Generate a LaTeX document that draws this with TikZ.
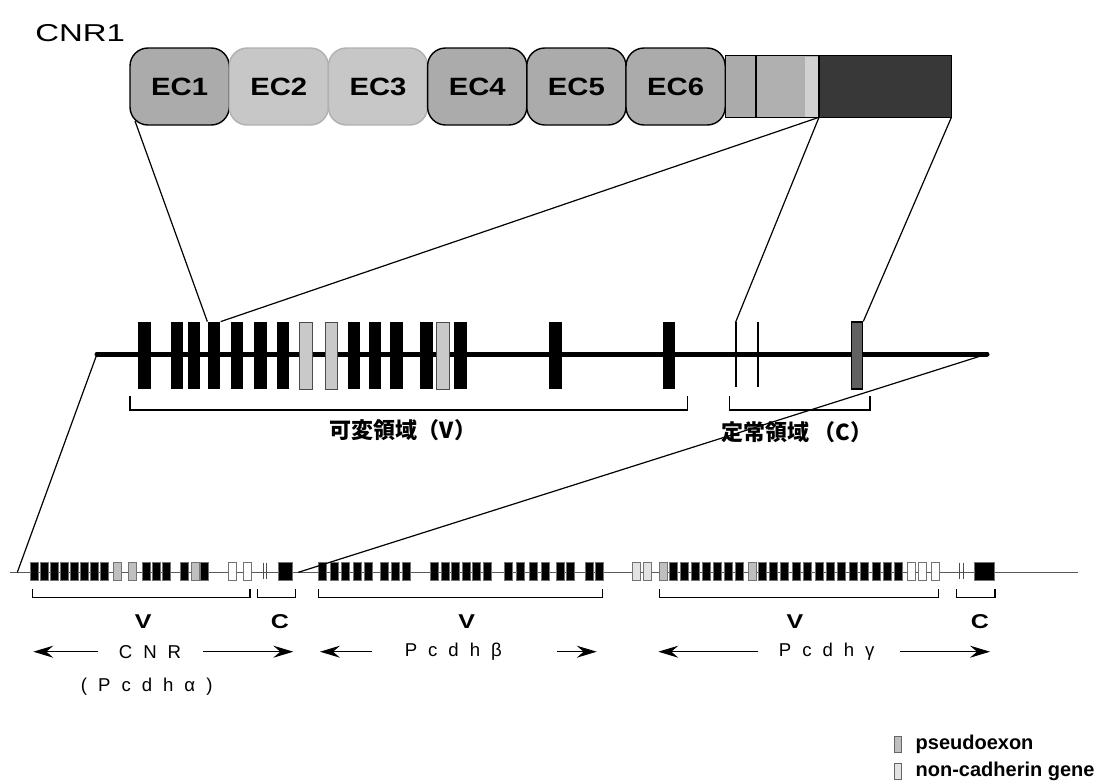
\documentclass[tikz,border=0pt]{standalone}
\usepackage{fontspec}
\usepackage{graphicx}
\setmainfont{Liberation Sans}
\newfontfamily\jpfont{Noto Sans CJK JP}
\usetikzlibrary{calc,positioning,arrows.meta}
\newcommand{\cgap}{\hspace{5.5pt}}
\newcommand{\widen}[2]{\scalebox{#1}[1]{#2}}
\tikzset{
	ecdark/.style={draw=black, fill=gray!66, line width=0.7pt, rounded corners=9pt, minimum width=49.6pt, minimum height=38.5pt, inner sep=0pt, outer sep=0pt, font=\fontsize{12.5}{14}\selectfont\bfseries},
	eclight/.style={ecdark, draw=gray!62, fill=gray!44},
	tmbox/.style={draw=black, fill=gray!66, line width=0.7pt, minimum height=30.8pt, inner sep=0pt, outer sep=0pt},
	vex/.style={fill=black, minimum width=6.25pt, minimum height=33.5pt, inner sep=0pt},
	vpseudo/.style={vex, draw=black!70, fill=gray!42, line width=0.5pt},
	bex/.style={draw=black!55, fill=black, minimum width=4pt, minimum height=9.2pt, inner sep=0pt, line width=0.4pt},
	bpseudo/.style={bex, fill=gray!50},
	bnoncad/.style={bex, fill=gray!22},
	bwhite/.style={bex, fill=white},
	link/.style={line width=0.6pt},
	brk/.style={line width=0.6pt},
	arr/.style={line width=0.5pt, -{Stealth[length=10pt,width=6pt,inset=3.5pt]}},
	vclab/.style={font=\fontsize{10}{12}\selectfont\bfseries, inner sep=0pt},
	namelab/.style={font=\fontsize{9.3}{11}\selectfont, inner sep=0pt},
	jplab/.style={font=\jpfont\bfseries\fontsize{11}{13}\selectfont, inner sep=0pt},
	legsq/.style={draw=black!60, minimum width=3.85pt, minimum height=8pt, inner sep=0pt, line width=0.4pt},
	legtxt/.style={font=\fontsize{10}{12}\selectfont\bfseries, inner sep=0pt, anchor=west}
}
\begin{document}
\begin{tikzpicture}[x=0.5pt,y=-0.5pt]
	\useasboundingbox (0,0) rectangle (1097,782);
	% protein
	\node[font=\fontsize{12.2}{14}\selectfont, inner sep=0pt, anchor=west] (cnr1) at (35,33) {\widen{1.35}{CNR1}};
	\node[ecdark] (ec1) at (179.6,86.5) {\widen{1.17}{EC1}};
	\node[eclight, right=0pt of ec1] (ec2) {\widen{1.17}{EC2}};
	\node[eclight, right=0pt of ec2] (ec3) {\widen{1.17}{EC3}};
	\node[ecdark, right=0pt of ec3] (ec4) {\widen{1.17}{EC4}};
	\node[ecdark, right=0pt of ec4] (ec5) {\widen{1.17}{EC5}};
	\node[ecdark, right=0pt of ec5] (ec6) {\widen{1.17}{EC6}};
	\node[tmbox, minimum width=15.3pt, right=0pt of ec6] (tm) {};
	\node[tmbox, fill=gray!62, minimum width=31.6pt, right=0pt of tm] (cyto) {};
	\fill[gray!36] ([xshift=-7pt,yshift=-0.4pt]cyto.north east) rectangle ([yshift=0.4pt]cyto.south east);
	\node[tmbox, fill=black!78, minimum width=66.2pt, right=0pt of cyto] (ct) {};
	% gene (middle)
	\draw[line width=2.5pt, line cap=round] (97,354) coordinate (mw) -- (987,354) coordinate (me);
	\foreach \x [count=\i] in {144.5,177,194,214,237,260.5,283,354,375,396.5,426.5,460.5,555.5,669}
		\node[vex] (v\i) at (\x,355.5) {};
	\foreach \x [count=\i] in {306,331.5,443}
		\node[vpseudo] (p\i) at (\x,355.5) {};
	\draw[line width=1pt] (735.7,322) coordinate (t1) -- (735.7,387);
	\draw[line width=1pt] (757.7,322) coordinate (t2) -- (757.7,387);
	\node[vex, draw=black, fill=black!62, line width=0.6pt, minimum width=5.5pt] (cx) at (857.2,355.5) {};
	% zoom lines
	\draw[link] ($(ec1.south west)+(5,-4)$) -- (v4.north west);
	\draw[link] (cyto.south east) -- (v4.north east);
	\draw[link] (cyto.south east) -- (t1);
	\draw[link] (ct.south east) -- (cx.north east);
	% brackets
	\draw[brk] (130,396) |- (687.7,410) -- (687.7,396);
	\draw[brk] (729.3,396) |- (870,410) -- (870,396);
	\node[jplab] (vreg) at (403,430) {可変領域（V）};
	\node[jplab] (creg) at (797,432) {定常領域\,（C）};
	% cluster (bottom)
	\draw[black!65, line width=0.7pt] (10,572.3) -- (1078,572.3);
	\coordinate (ta) at (17.3,572.3);
	\coordinate (tb) at (298.3,572.3);
	% alpha
	\foreach \i in {0,...,7}
		\node[bex] (a\i) at ({34.5+10*\i},571.5) {};
	\foreach \x [count=\i] in {145.9,155.9,165.9,184.2,204.2}
		\node[bex] (ab\i) at (\x,571.5) {};
	\foreach \x [count=\i] in {117.7,132.7,195}
		\node[bpseudo] (ap\i) at (\x,571.5) {};
	\foreach \x [count=\i] in {232.7,247}
		\node[bwhite] (aw\i) at (\x,571.5) {};
	\draw[black!70, line width=0.5pt] (263,562.7) -- (263,579.3) (266.7,562.7) -- (266.7,579.3);
	\node[bex, minimum width=6.8pt] (ac) at (285.5,571.5) {};
	% beta
	\foreach \x [count=\i] in {322.5,334,345.5,357,368.5,384,395,406,434.5,445,455.5,466,476.5,487,508,520.5,533,545.5,560.5,570.7,589,599.2}
		\node[bex] (b\i) at (\x,571.5) {};
	% gamma
	\foreach \x [count=\i] in {636,647}
		\node[bnoncad] (gn\i) at (\x,571.5) {};
	\foreach \x [count=\i] in {663,752}
		\node[bpseudo] (gp\i) at (\x,571.5) {};
	\foreach \i in {0,...,6}
		\node[bex] (g\i) at ({673.5+11*\i},571.5) {};
	\foreach \i in {0,...,12}
		\node[bex] (h\i) at ({762+11.4*\i},571.5) {};
	\foreach \x [count=\i] in {911,922.5,935.5}
		\node[bwhite] (gw\i) at (\x,571.5) {};
	\draw[black!70, line width=0.5pt] (959.3,562.7) -- (959.3,579.3) (963.3,562.7) -- (963.3,579.3);
	\node[bex, minimum width=10pt] (gc) at (984,571.5) {};
	\draw[link] (mw) -- (ta);
	\draw[link] (me) -- (tb);
	% brackets bottom
	\draw[brk] (32.3,589) |- (250,597.3) -- (250,589);
	\draw[brk] (257.7,589) |- (295.7,597.3) -- (295.7,589);
	\draw[brk] (318.3,589) |- (602.7,597.3) -- (602.7,589);
	\draw[brk] (659.3,589) |- (938.3,597.3) -- (938.3,589);
	\draw[brk] (956.7,589) |- (995,597.3) -- (995,589);
	\node[vclab] (av) at (143.3,621.7) {\widen{1.25}{V}};
	\node[vclab] (acl) at (280,621.7) {\widen{1.25}{C}};
	\node[vclab] (bv) at (466.7,621.7) {\widen{1.25}{V}};
	\node[vclab] (gv) at (795,621.7) {\widen{1.25}{V}};
	\node[vclab] (gcl) at (980,621.7) {\widen{1.25}{C}};
	% names
	\node[namelab] (cnr) at (150,651.7) {C\cgap N\cgap R};
	\node[namelab] (pa) at (146.7,686.7) {(\cgap P\cgap c\cgap d\cgap h\cgap α\cgap)};
	\node[namelab] (pb) at (453.3,651.7) {P\cgap c\cgap d\cgap h\cgap β};
	\node[namelab] (pg) at (826.7,651.7) {P\cgap c\cgap d\cgap h\cgap γ};
	\draw[arr] (98.3,651.7) -- (33.3,651.7);
	\draw[arr] (203.3,651.7) -- (293.3,651.7);
	\draw[arr] (371.7,651.7) -- (320,651.7);
	\draw[arr] (556.7,651.7) -- (596.7,651.7);
	\draw[arr] (758.3,651.7) -- (658.3,651.7);
	\draw[arr] (900,651.7) -- (990,651.7);
	% legend
	\node[legsq, fill=gray!50] (lp) at (897.8,744) {};
	\node[legtxt, right=6.6pt of lp] (lpt) {pseudoexon};
	\node[legsq, fill=gray!22] (ln) at (897.8,771.5) {};
	\node[legtxt, right=6.6pt of ln] (lnt) {non-cadherin gene};
\end{tikzpicture}
\end{document}
